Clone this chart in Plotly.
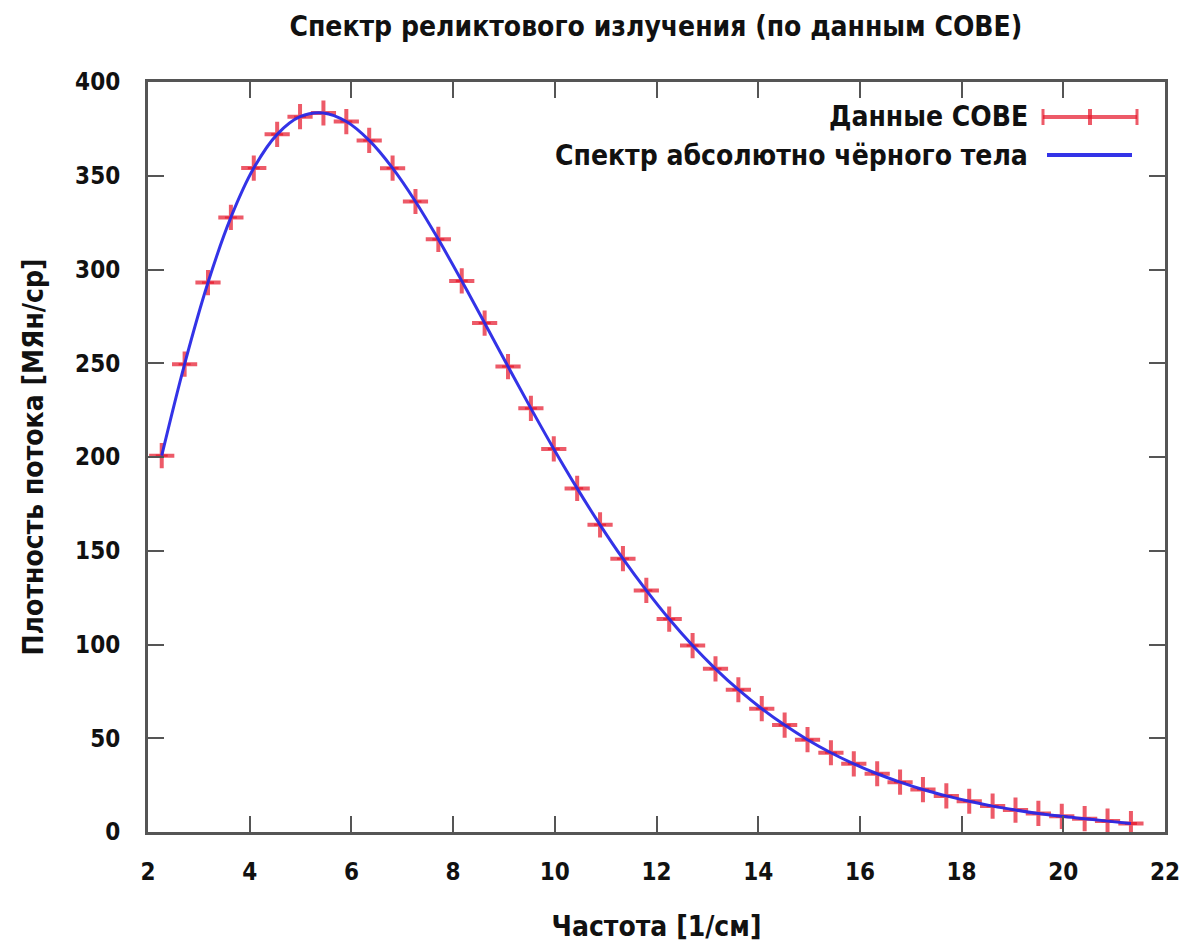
import plotly.graph_objects as go

# COBE FIRAS monopole spectrum
freq_cm = [2.27, 2.72, 3.18, 3.63, 4.08, 4.54, 4.99, 5.45, 5.90, 6.35, 6.81, 7.26,
           7.71, 8.17, 8.62, 9.08, 9.53, 9.98, 10.44, 10.89, 11.34, 11.80, 12.25,
           12.71, 13.16, 13.61, 14.07, 14.52, 14.97, 15.43, 15.88, 16.34, 16.79,
           17.24, 17.70, 18.15, 18.61, 19.06, 19.51, 19.97, 20.42, 20.87, 21.33]
intensity = [200.723, 249.508, 293.024, 327.770, 354.081, 372.079, 381.493, 383.478,
             378.901, 368.833, 354.063, 336.278, 316.076, 293.924, 271.432, 248.239,
             225.940, 204.327, 183.262, 163.830, 145.750, 128.835, 113.568, 99.451,
             87.036, 75.876, 65.766, 57.008, 49.223, 42.267, 36.352, 31.062, 26.580,
             22.644, 19.255, 16.391, 13.811, 11.716, 9.921, 8.364, 7.087, 5.801, 4.523]
uncert_kjy = [14, 19, 25, 23, 22, 21, 18, 18, 16, 14, 13, 12, 11, 10, 11, 12, 14, 16,
              18, 22, 22, 23, 23, 23, 22, 21, 20, 19, 19, 19, 21, 23, 26, 28, 30, 32,
              33, 35, 41, 55, 88, 155, 282]
uncert = [u / 1000.0 for u in uncert_kjy]

x_ticks = [2, 4, 6, 8, 10, 12, 14, 16, 18, 20, 22]
y_ticks = [0, 50, 100, 150, 200, 250, 300, 350, 400]

TITLE = "Спектр реликтового излучения (по данным COBE)"
X_TITLE = "Частота [1/см]"
Y_TITLE = "Плотность потока [МЯн/ср]"
LEG_DATA = "Данные COBE"
LEG_BB = "Спектр абсолютно чёрного тела"

FONT = "DejaVu Sans Condensed, DejaVu Sans"
TICK_TXT = dict(family=FONT, size=24, color="#111", weight="bold")
TXT = dict(family=FONT, size=28, color="#111", weight="bold")
RED = "rgba(230,20,40,0.7)"
BLUE = "rgba(40,40,230,0.95)"
FRAME = "#555555"

fig = go.Figure()

fig.add_trace(go.Scatter(
    x=freq_cm, y=intensity, mode="markers",
    marker=dict(symbol="cross-thin", size=18, line=dict(color=RED, width=4)),
    error_y=dict(type="data", array=uncert, color=RED, thickness=2, width=6),
    showlegend=False,
))
fig.add_trace(go.Scatter(
    x=freq_cm, y=intensity, mode="lines", line_shape="spline",
    line=dict(color=BLUE, width=3), showlegend=False,
))

axis_common = dict(
    showgrid=False, zeroline=False, showline=True, linecolor=FRAME, linewidth=3,
    mirror="ticks", ticks="inside", ticklen=16, tickwidth=2, tickcolor=FRAME,
    tickfont=TICK_TXT, automargin=False,
)
fig.update_xaxes(range=[2, 22], tickvals=x_ticks, ticklabelstandoff=16,
                 title=dict(text=X_TITLE, font=TXT, standoff=34), **axis_common)
fig.update_yaxes(range=[0, 400], tickvals=y_ticks, ticklabelstandoff=20,
                 title=dict(text=Y_TITLE, font=TXT, standoff=24), **axis_common)

L, R, T, B = 148, 21, 82, 111
W, H = 1186, 943
pw, ph = W - L - R, H - T - B


def px(x):
    return (x - L) / pw


def py(y):
    return (H - B - y) / ph


shapes = []
# legend sample: data with error bars
ly1 = 117
shapes.append(dict(type="line", xref="paper", yref="paper", x0=px(1043), x1=px(1137),
                   y0=py(ly1), y1=py(ly1), line=dict(color=RED, width=4)))
for xe in (1043, 1137):
    shapes.append(dict(type="line", xref="paper", yref="paper", x0=px(xe), x1=px(xe),
                       y0=py(ly1 - 8), y1=py(ly1 + 8), line=dict(color=RED, width=3)))
shapes.append(dict(type="line", xref="paper", yref="paper", x0=px(1090), x1=px(1090),
                   y0=py(ly1 - 8), y1=py(ly1 + 8), line=dict(color=RED, width=4)))
# legend sample: blackbody curve
ly2 = 155
shapes.append(dict(type="line", xref="paper", yref="paper", x0=px(1047), x1=px(1132),
                   y0=py(ly2), y1=py(ly2), line=dict(color=BLUE, width=4)))

annotations = [
    dict(text=LEG_DATA, xref="paper", yref="paper", x=px(1030), y=py(ly1),
         xanchor="right", yanchor="middle", showarrow=False, font=TXT),
    dict(text=LEG_BB, xref="paper", yref="paper", x=px(1030), y=py(ly2),
         xanchor="right", yanchor="middle", showarrow=False, font=TXT),
]

fig.update_layout(
    width=W, height=H,
    margin=dict(l=L, r=R, t=T, b=B),
    paper_bgcolor="white", plot_bgcolor="white",
    title=dict(text=TITLE, x=0.553, xanchor="center", y=0.972, yanchor="middle",
               font=TXT),
    shapes=shapes, annotations=annotations,
    showlegend=False,
)

fig.write_html("out.html")
